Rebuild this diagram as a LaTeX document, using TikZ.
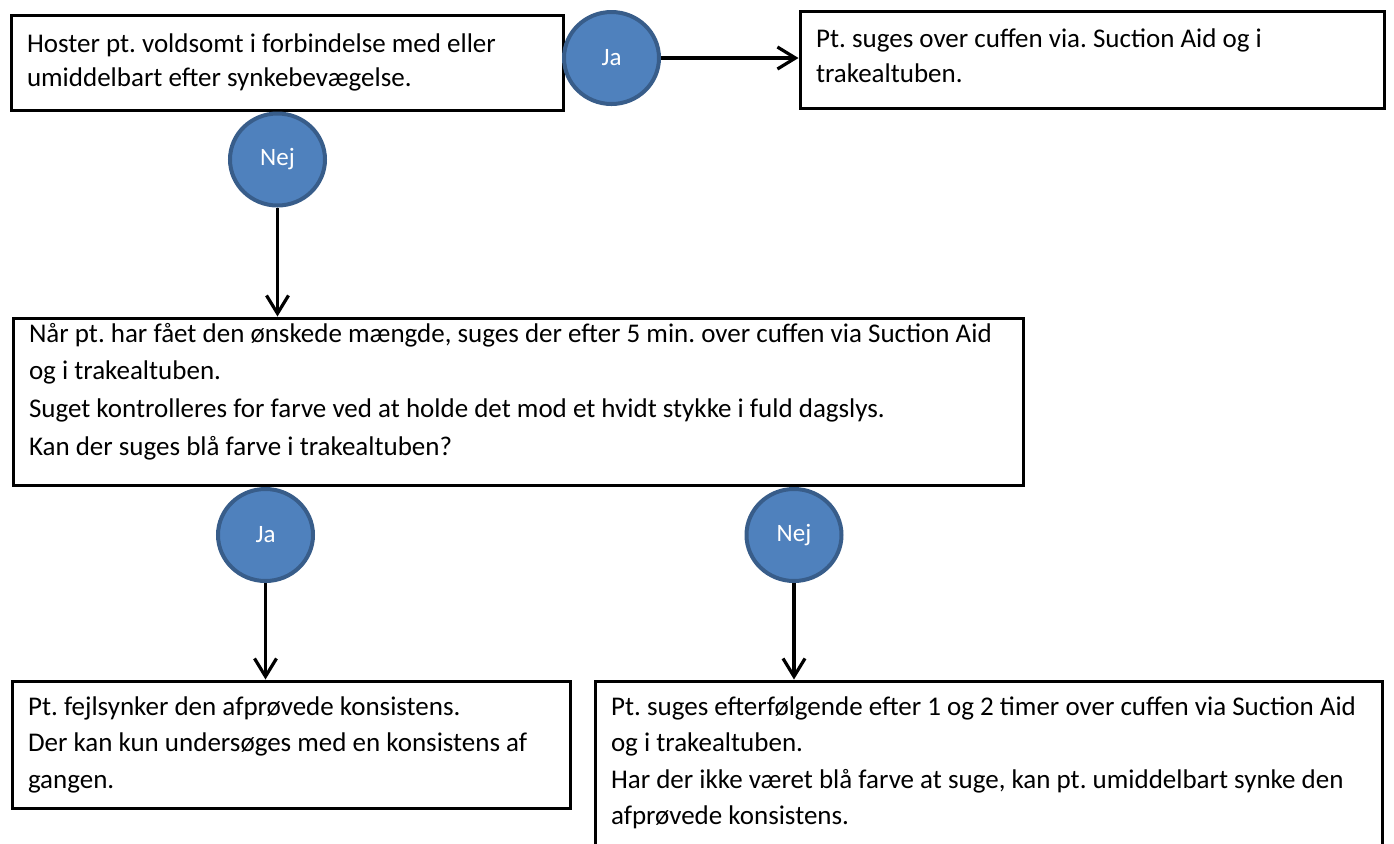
\documentclass[tikz,border=0pt]{standalone}
\usepackage{fontspec}
\setmainfont{Carlito}
\usepackage{tikz}
\usetikzlibrary{positioning,shapes.geometric,arrows.meta}

\definecolor{svarblaa}{HTML}{4F81BD}
\definecolor{svarkant}{HTML}{385D8A}
\frenchspacing

% tekst i kasse: bredde, hoejde, foerste grundlinje, tekst
\newcommand{\kassetekst}[4]{\parbox[c][#2][t]{#1}{\raggedright\rule{0pt}{#3}#4}}

\begin{document}
\begin{tikzpicture}[x=0.5pt, y=-0.5pt, >={Straight Barb[length=9pt,width=11pt]},
    box/.style={draw, line width=1.5pt, rectangle, anchor=north west, inner xsep=8pt, inner ysep=0pt,
                font=\fontsize{13.5}{18.2}\selectfont},
    svar/.style={ellipse, draw=svarkant, fill=svarblaa, line width=2pt, minimum width=47.5pt,
                 minimum height=46pt, inner sep=0pt, text=white, font=\fontsize{12.5}{14}\selectfont},
    pil/.style={->, line width=1.6pt}
    ]
    \useasboundingbox (0,0) rectangle (1394,843);

    \node[box, font=\fontsize{13.5}{17.2}\selectfont] at (9.5,13.5) (hoste)
        {\kassetekst{260pt}{47.5pt}{18.6pt}{Hoster pt. voldsomt i forbindelse med eller\\umiddelbart efter synkebevægelse.}};
    \node[box, font=\fontsize{13.5}{17.5}\selectfont] at (798.5,9.5) (suges)
        {\kassetekst{276pt}{48.5pt}{18.2pt}{Pt. suges over cuffen via. Suction Aid og i\\trakealtuben.}};
    \node[box, font=\fontsize{13.5}{18.85}\selectfont] at (11.5,316.5) (kontrol)
        {\kassetekst{489pt}{83.5pt}{12.1pt}{Når pt. har fået den ønskede mængde, suges der efter 5 min. over cuffen via Suction Aid\\og i trakealtuben.\\Suget kontrolleres for farve ved at holde det mod et hvidt stykke i fuld dagslys.\\Kan der suges blå farve i trakealtuben?}};
    \node[box] at (10.5,679.5) (fejl)
        {\kassetekst{263pt}{63.5pt}{17.25pt}{Pt. fejlsynker den afprøvede konsistens.\\Der kan kun undersøges med en konsistens af\\gangen.}};
    \node[box] at (593.5,679.5) (efter)
        {\kassetekst{377.5pt}{95pt}{17.25pt}{Pt. suges efterfølgende efter 1 og 2 timer over cuffen via Suction Aid\\og i trakealtuben.\\Har der ikke været blå farve at suge, kan pt. umiddelbart synke den\\afprøvede konsistens.}};

    \node[svar] at (611.5,58) (ja1) {Ja};
    \node[svar] at (277.5,159.5) (nej1) {Nej};
    \node[svar] at (265.5,535) (ja2) {Ja};
    \node[svar] at (794,535) (nej2) {Nej};

    \draw[pil] (ja1) -- (ja1 -| suges.west);
    \draw[pil] (nej1) -- (nej1 |- kontrol.north);
    \draw[pil] (ja2) -- (ja2 |- fejl.north);
    \draw[pil] (nej2) -- (nej2 |- efter.north);
\end{tikzpicture}
\end{document}
